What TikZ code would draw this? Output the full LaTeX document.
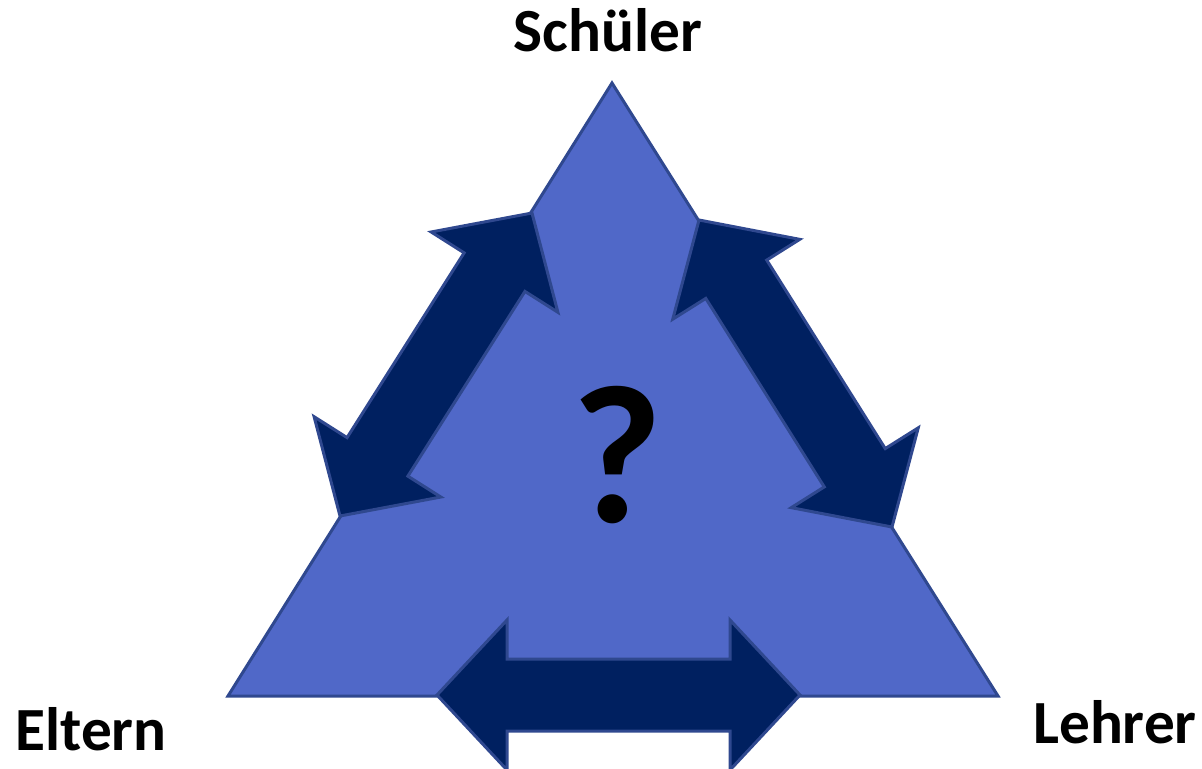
\documentclass[tikz,border=0pt]{standalone}
\usepackage{fontspec}
\setmainfont{Carlito}
\usetikzlibrary{calc}
\definecolor{triFill}{RGB}{80,104,200}
\definecolor{edgeCol}{RGB}{47,72,143}
\definecolor{arrFill}{RGB}{0,32,96}
\newcommand\dblarr[2]{%
 \filldraw[arrowshape] (#1)
  -- ($(#1)!52.5pt!(#2)!56.25pt!90:(#2)$)
  -- ($(#1)!52.5pt!(#2)!27pt!90:(#2)$)
  -- ($(#2)!52.5pt!(#1)!27pt!-90:(#1)$)
  -- ($(#2)!52.5pt!(#1)!56.25pt!-90:(#1)$)
  -- (#2)
  -- ($(#2)!52.5pt!(#1)!56.25pt!90:(#1)$)
  -- ($(#2)!52.5pt!(#1)!27pt!90:(#1)$)
  -- ($(#1)!52.5pt!(#2)!27pt!-90:(#2)$)
  -- ($(#1)!52.5pt!(#2)!56.25pt!-90:(#2)$)
  -- cycle;}
\tikzset{
  triangleshape/.style={fill=triFill, draw=edgeCol},
  arrowshape/.style={fill=arrFill, draw=edgeCol},
  lbl/.style={inner sep=0pt, anchor=base, font=\bfseries\fontsize{46}{46}\selectfont},
  qmark/.style={inner sep=0pt, anchor=base, font=\bfseries\fontsize{148}{148}\selectfont}
}
\begin{document}
\begin{tikzpicture}[x=0.75pt,y=-0.75pt, line width=2.25pt, line join=miter]
\useasboundingbox (0,0) rectangle (1202,768);
\coordinate (top) at (612,83);
\coordinate (bl) at (228,696);
\coordinate (br) at (998,696);
\filldraw[triangleshape] (top) -- (bl) -- (br) -- cycle;
\coordinate (lA) at (532,213);
\coordinate (lB) at (340,516);
\coordinate (rA) at (699,220);
\coordinate (rB) at (892,527);
\coordinate (bA) at (437,695);
\coordinate (bB) at (800,695);
\dblarr{lA}{lB}
\dblarr{rA}{rB}
\dblarr{bA}{bB}
\node[qmark] (q) at (617,522) {?};
\node[lbl] (schueler) at (608,51) {Schüler};
\node[lbl] (eltern) at (91,750) {Eltern};
\node[lbl] (lehrer) at (1115,743) {Lehrer};
\end{tikzpicture}
\end{document}
